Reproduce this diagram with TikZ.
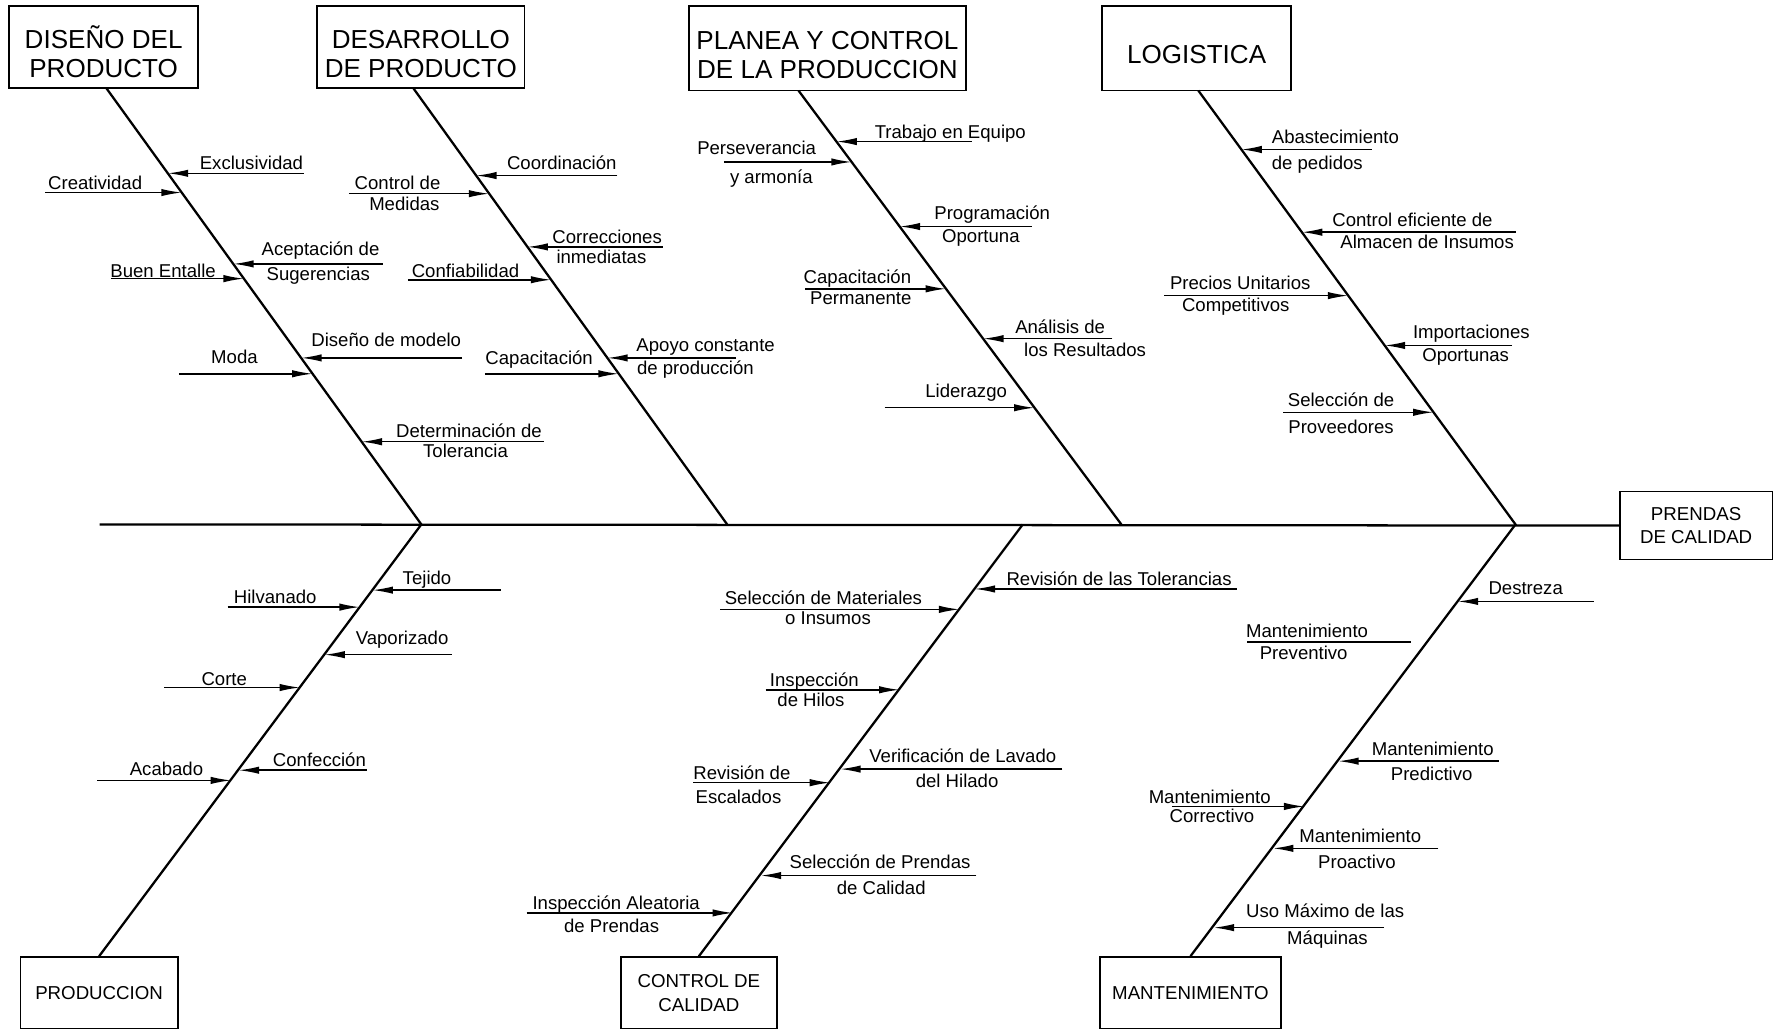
\documentclass[tikz,border=0pt]{standalone}
\usepackage{fontspec}
\setmainfont{Liberation Sans}
\usetikzlibrary{arrows.meta,positioning}

\begin{document}
\begin{tikzpicture}[x=1pt,y=-1pt,
	block_top/.style ={rectangle, draw=black, line width=1.5pt,
		align=center, inner sep=2pt, text height=56pt, text depth=2pt,
		font=\fontsize{23}{26}\selectfont},
	block_bottom/.style ={rectangle, draw=black, line width=1.5pt,
		align=center, inner sep=2pt, font=\fontsize{16.5}{21}\selectfont},
	cause/.style ={inner sep=0pt, text height=12pt, text depth=0pt,
		font=\fontsize{16.4}{19}\selectfont},
	bone/.style ={draw, line width=2pt},
	line/.style ={draw, line width=1.3pt, -{Latex[length=18pt,width=6.5pt]}}]
	\useasboundingbox (0,0) rectangle (1568,912);

	% category boxes - top row
	\node [block_top, minimum width=167pt, minimum height=73pt] (diseno) at (91.5,41.5) {DISEÑO DEL\\PRODUCTO};
	\node [block_top, minimum width=183pt, minimum height=73pt] (desarrollo) at (371.5,41.5) {DESARROLLO\\DE PRODUCTO};
	\node [block_top, minimum width=245pt, minimum height=75pt] (planea) at (730.5,42.5) {PLANEA Y CONTROL\\DE LA PRODUCCION};
	\node [block_top, minimum width=167pt, minimum height=75pt, text height=30pt, text depth=2.5pt] (logistica) at (1056.5,42.5) {LOGISTICA};
	% category boxes - bottom row
	\node [block_bottom, minimum width=139pt, minimum height=63pt] (produccion) at (87.5,876.5) {PRODUCCION};
	\node [block_bottom, minimum width=138pt, minimum height=63pt] (control) at (617,876.5) {CONTROL DE\\CALIDAD};
	\node [block_bottom, minimum width=160pt, minimum height=63pt] (mant) at (1051,876.5) {MANTENIMIENTO};
	% effect
	\node [block_bottom, minimum width=135pt, minimum height=60pt] (prendas) at (1497.5,464) {PRENDAS\\DE CALIDAD};

	% spine points
	\coordinate (tail) at (88,463);
	\coordinate (a1) at (94,78);
	\coordinate (a2) at (365,78);
	\coordinate (a3) at (705,80);
	\coordinate (a4) at (1058,80);
	\coordinate (j1) at (372,463);
	\coordinate (j2) at (642,463);
	\coordinate (j3) at (990,463);
	\coordinate (jc) at (903,463);
	\coordinate (j4) at (1338,463);

	% causes - DISEÑO DEL PRODUCTO
	\node [cause] (excl) at (222,144) {Exclusividad};
	\node [cause] (crea) at (84,161) {Creatividad};
	\node [cause] (acep1) at (283,220) {Aceptación de};
	\node [cause] (acep2) at (281,242) {Sugerencias};
	\node [cause] (buen) at (144,239) {Buen Entalle};
	\node [cause] (dmod) at (341,300) {Diseño de modelo};
	\node [cause] (moda) at (207,315) {Moda};
	\node [cause] (dtol1) at (414,380) {Determinación de};
	\node [cause] (dtol2) at (411,398) {Tolerancia};
	% causes - DESARROLLO DE PRODUCTO
	\node [cause] (coor) at (496,144) {Coordinación};
	\node [cause] (cmed1) at (351,161) {Control de};
	\node [cause] (cmed2) at (357,180) {Medidas};
	\node [cause] (corr1) at (536,209) {Correcciones};
	\node [cause] (corr2) at (531,227) {inmediatas};
	\node [cause] (conf) at (411,239) {Confiabilidad};
	\node [cause] (apoy1) at (623,304) {Apoyo constante};
	\node [cause] (apoy2) at (614,325) {de producción};
	\node [cause] (capa) at (476,316) {Capacitación};
	% causes - PLANEA Y CONTROL
	\node [cause] (trab) at (839,116) {Trabajo en Equipo};
	\node [cause] (pers1) at (668,130) {Perseverancia};
	\node [cause] (pers2) at (681,156) {y armonía};
	\node [cause] (prog1) at (876,188) {Programación};
	\node [cause] (prog2) at (866,208) {Oportuna};
	\node [cause] (capp1) at (757,244) {Capacitación};
	\node [cause] (capp2) at (760,263) {Permanente};
	\node [cause] (anal1) at (936,288) {Análisis de};
	\node [cause] (anal2) at (958,309) {los Resultados};
	\node [cause] (lide) at (853,345) {Liderazgo};
	% causes - LOGISTICA
	\node [cause] (abas1) at (1179,121) {Abastecimiento};
	\node [cause] (abas2) at (1163,144) {de pedidos};
	\node [cause] (cefi1) at (1247,194) {Control eficiente de};
	\node [cause] (cefi2) at (1260,213) {Almacen de Insumos};
	\node [cause] (prec1) at (1095,250) {Precios Unitarios};
	\node [cause] (prec2) at (1091,269) {Competitivos};
	\node [cause] (impo1) at (1299,293) {Importaciones};
	\node [cause] (impo2) at (1294,313) {Oportunas};
	\node [cause] (selp1) at (1184,353) {Selección de};
	\node [cause] (selp2) at (1184,377) {Proveedores};
	% causes - PRODUCCION
	\node [cause] (teji) at (377,510) {Tejido};
	\node [cause] (hilv) at (243,527) {Hilvanado};
	\node [cause] (vapo) at (355,563) {Vaporizado};
	\node [cause] (cort) at (198,599) {Corte};
	\node [cause] (conc) at (282,671) {Confección};
	\node [cause] (acab) at (147,679) {Acabado};
	% causes - CONTROL DE CALIDAD
	\node [cause] (rtol) at (988,511) {Revisión de las Tolerancias};
	\node [cause] (smat1) at (727,528) {Selección de Materiales};
	\node [cause] (smat2) at (731,545) {o Insumos};
	\node [cause] (ihil1) at (719,600) {Inspección};
	\node [cause] (ihil2) at (716,618) {de Hilos};
	\node [cause] (vlav1) at (850,667) {Verificación de Lavado};
	\node [cause] (vlav2) at (845,689) {del Hilado};
	\node [cause] (resc1) at (655,682) {Revisión de};
	\node [cause] (resc2) at (652,703) {Escalados};
	\node [cause] (spre1) at (777,761) {Selección de Prendas};
	\node [cause] (spre2) at (778,784) {de Calidad};
	\node [cause] (iale1) at (544,797) {Inspección Aleatoria};
	\node [cause] (iale2) at (540,817) {de Prendas};
	% causes - MANTENIMIENTO
	\node [cause] (dest) at (1347,519) {Destreza};
	\node [cause] (mprev1) at (1154,557) {Mantenimiento};
	\node [cause] (mprev2) at (1151,576) {Preventivo};
	\node [cause] (mpred1) at (1265,661) {Mantenimiento};
	\node [cause] (mpred2) at (1264,683) {Predictivo};
	\node [cause] (mcorr1) at (1068,703) {Mantenimiento};
	\node [cause] (mcorr2) at (1070,720) {Correctivo};
	\node [cause] (mproa1) at (1201,738) {Mantenimiento};
	\node [cause] (mproa2) at (1198,761) {Proactivo};
	\node [cause] (umax1) at (1170,804) {Uso Máximo de las};
	\node [cause] (umax2) at (1172,828) {Máquinas};

	% arrow ends (free end, point on the bone)
	\coordinate (excl_e) at (268,153);   \coordinate (excl_s) at (148.2,153);
	\coordinate (crea_e) at (40,170);    \coordinate (crea_s) at (160.4,170);
	\coordinate (acep_e) at (338,233);   \coordinate (acep_s) at (205.9,233);
	\coordinate (buen_e) at (98,246);    \coordinate (buen_s) at (215.3,246);
	\coordinate (dmod_e) at (408,316);   \coordinate (dmod_s) at (265.9,316);
	\coordinate (moda_e) at (158,330);   \coordinate (moda_s) at (276,330);
	\coordinate (dtol_e) at (480,390);   \coordinate (dtol_s) at (319.3,390);
	\coordinate (coor_e) at (545,155);   \coordinate (coor_s) at (420.4,155);
	\coordinate (cmed_e) at (308,171);   \coordinate (cmed_s) at (431.9,171);
	\coordinate (corr_e) at (585,218);   \coordinate (corr_s) at (465.7,218);
	\coordinate (conf_e) at (360,247);   \coordinate (conf_s) at (486.6,247);
	\coordinate (apoy_e) at (650,316);   \coordinate (apoy_s) at (536.2,316);
	\coordinate (capa_e) at (428,330);   \coordinate (capa_s) at (546.3,330);
	\coordinate (trab_e) at (858,125);   \coordinate (trab_s) at (738.5,125);
	\coordinate (pers_e) at (639,143);   \coordinate (pers_s) at (751.9,143);
	\coordinate (prog_e) at (911,200);   \coordinate (prog_s) at (794.3,200);
	\coordinate (capp_e) at (711,255);   \coordinate (capp_s) at (835.2,255);
	\coordinate (anal_e) at (982,299);   \coordinate (anal_s) at (868,299);
	\coordinate (lide_e) at (781,360);   \coordinate (lide_s) at (913.3,360);
	\coordinate (abas_e) at (1211,132);  \coordinate (abas_s) at (1096,132);
	\coordinate (cefi_e) at (1338,205);  \coordinate (cefi_s) at (1149.4,205);
	\coordinate (prec_e) at (1028,261);  \coordinate (prec_s) at (1190.3,261);
	\coordinate (impo_e) at (1335,305);  \coordinate (impo_s) at (1222.5,305);
	\coordinate (selp_e) at (1133,364);  \coordinate (selp_s) at (1265.6,364);
	\coordinate (teji_e) at (442,521);   \coordinate (teji_s) at (328.9,521);
	\coordinate (hilv_e) at (201,536);   \coordinate (hilv_s) at (317.7,536);
	\coordinate (vapo_e) at (399,578);   \coordinate (vapo_s) at (286.5,578);
	\coordinate (cort_e) at (145,607);   \coordinate (cort_s) at (264.9,607);
	\coordinate (conc_e) at (324,680);   \coordinate (conc_s) at (210.7,680);
	\coordinate (acab_e) at (86,689);    \coordinate (acab_s) at (204,689);
	\coordinate (rtol_e) at (1092,520);  \coordinate (rtol_s) at (860.5,520);
	\coordinate (smat_e) at (636,538);   \coordinate (smat_s) at (847,538);
	\coordinate (ihil_e) at (676,609);   \coordinate (ihil_s) at (794.1,609);
	\coordinate (vlav_e) at (938,679);   \coordinate (vlav_s) at (741.8,679);
	\coordinate (resc_e) at (612,691);   \coordinate (resc_s) at (732.9,691);
	\coordinate (spre_e) at (862,773);   \coordinate (spre_s) at (671.7,773);
	\coordinate (iale_e) at (465,806);   \coordinate (iale_s) at (647.1,806);
	\coordinate (dest_e) at (1407,531);  \coordinate (dest_s) at (1287.1,531);
	\coordinate (mprev_e) at (1101,567); \coordinate (mprev_s) at (1246,567);
	\coordinate (mpred_e) at (1323,672); \coordinate (mpred_s) at (1181.5,672);
	\coordinate (mcorr_e) at (1035,712); \coordinate (mcorr_s) at (1151.6,712);
	\coordinate (mproa_e) at (1270,749); \coordinate (mproa_s) at (1123.9,749);
	\coordinate (umax_e) at (1222,819);  \coordinate (umax_s) at (1071.5,819);

	% bones
	\begin{scope}[every path/.style=bone]
		\path (tail) -- (prendas.west);
		\path (a1) -- (j1) -- (produccion.north);
		\path (a2) -- (j2);
		\path (a3) -- (j3);
		\path (jc) -- (control.north);
		\path (a4) -- (j4) -- (mant.north);
	\end{scope}

	% connecting causes with the bones
	\begin{scope}[every path/.style=line]
		% top row
		\path (excl_e) -- (excl_s);
		\path (crea_e) -- (crea_s);
		\path (acep_e) -- (acep_s);
		\path (buen_e) -- (buen_s);
		\path (dmod_e) -- (dmod_s);
		\path (moda_e) -- (moda_s);
		\path (dtol_e) -- (dtol_s);
		\path (coor_e) -- (coor_s);
		\path (cmed_e) -- (cmed_s);
		\path (corr_e) -- (corr_s);
		\path (conf_e) -- (conf_s);
		\path (apoy_e) -- (apoy_s);
		\path (capa_e) -- (capa_s);
		\path (trab_e) -- (trab_s);
		\path (pers_e) -- (pers_s);
		\path (prog_e) -- (prog_s);
		\path (capp_e) -- (capp_s);
		\path (anal_e) -- (anal_s);
		\path (lide_e) -- (lide_s);
		\path (abas_e) -- (abas_s);
		\path (cefi_e) -- (cefi_s);
		\path (prec_e) -- (prec_s);
		\path (impo_e) -- (impo_s);
		\path (selp_e) -- (selp_s);
		% bottom row
		\path (teji_e) -- (teji_s);
		\path (hilv_e) -- (hilv_s);
		\path (vapo_e) -- (vapo_s);
		\path (cort_e) -- (cort_s);
		\path (conc_e) -- (conc_s);
		\path (acab_e) -- (acab_s);
		\path (rtol_e) -- (rtol_s);
		\path (smat_e) -- (smat_s);
		\path (ihil_e) -- (ihil_s);
		\path (vlav_e) -- (vlav_s);
		\path (resc_e) -- (resc_s);
		\path (spre_e) -- (spre_s);
		\path (iale_e) -- (iale_s);
		\path (dest_e) -- (dest_s);
		\path (mpred_e) -- (mpred_s);
		\path (mcorr_e) -- (mcorr_s);
		\path (mproa_e) -- (mproa_s);
		\path (umax_e) -- (umax_s);
		\path[-] (mprev_e) -- (mprev_s);
	\end{scope}
\end{tikzpicture}
\end{document}
